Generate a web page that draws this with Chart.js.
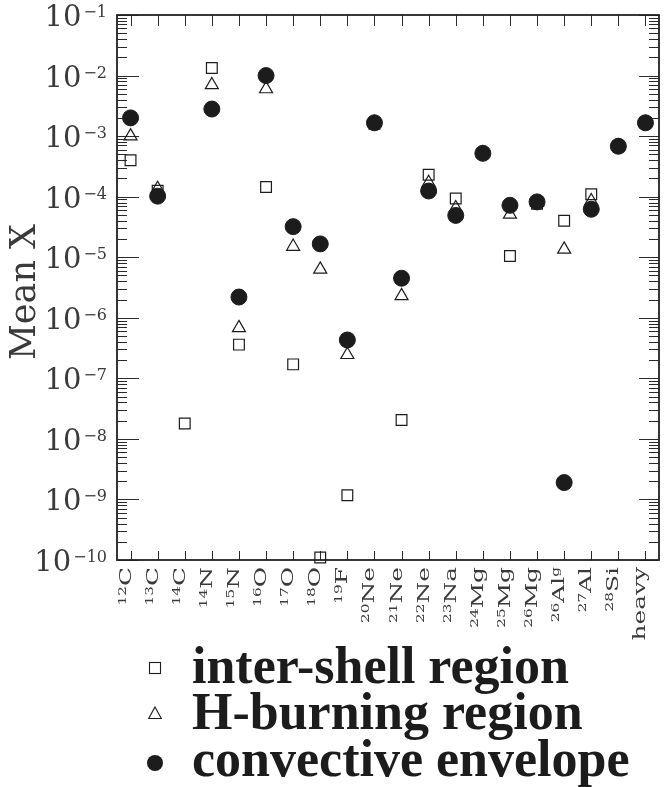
<!DOCTYPE html>
<html>
<head>
<meta charset="utf-8">
<script src="https://cdn.jsdelivr.net/npm/chart.js@4/dist/chart.umd.min.js"></script>
<style>
  html, body { margin: 0; padding: 0; background: #fff; }
  #wrap { width: 668px; height: 787px; }
</style>
</head>
<body>
<div id="wrap"><canvas id="chart" width="668" height="787"></canvas></div>
<script>
// Isotopes on the x axis (mass number, element, trailing superscript)
const massNumbers = ['12', '13', '14', '14', '15', '16', '17', '18', '19', '20', '21', '22', '23', '24', '25', '26', '26', '27', '28', ''];
const elements = ['C', 'C', 'C', 'N', 'N', 'O', 'O', 'O', 'F', 'Ne', 'Ne', 'Ne', 'Na', 'Mg', 'Mg', 'Mg', 'Al', 'Al', 'Si', 'heavy'];
const suffixes = ['', '', '', '', '', '', '', '', '', '', '', '', '', '', '', '', 'g', '', '', ''];
const categories = elements.map((el, i) => massNumbers[i] + el + suffixes[i]);

// Mean X per region
const interShell = [4.0e-4, 1.25e-4, 1.8e-8, 1.33e-2, 3.6e-7, 1.44e-4, 1.7e-7, 1.1e-10, 1.17e-9, 1.6e-3,
                    2.05e-8, 2.3e-4, 9.3e-5, 5.2e-4, 1.05e-5, 7.6e-5, 4.0e-5, 1.1e-4, 6.8e-4, 1.66e-3];
const hBurning = [1.0e-3, 1.35e-4, null, 7.0e-3, 6.8e-7, 6.0e-3, 1.5e-5, 6.3e-6, 2.45e-7, 1.65e-3,
                  2.3e-6, 1.7e-4, 6.5e-5, 5.2e-4, 5.1e-5, 8.0e-5, 1.35e-5, 8.5e-5, 6.8e-4, 1.66e-3];
const convective = [2.0e-3, 1.02e-4, null, 2.8e-3, 2.2e-6, 1.0e-2, 3.2e-5, 1.66e-5, 4.3e-7, 1.66e-3,
                    4.5e-6, 1.24e-4, 4.9e-5, 5.2e-4, 7.2e-5, 8.2e-5, 1.9e-9, 6.2e-5, 6.8e-4, 1.66e-3];

// y axis decades and minor tick multipliers
const yExponents = [-10, -9, -8, -7, -6, -5, -4, -3, -2, -1];
const minorSteps = [2, 3, 4, 5, 6, 7, 8, 9];

const legendLabels = ['inter-shell region', 'H-burning region', 'convective envelope'];

const ink = '#1c1c1c';
const axisFont = '"DejaVu Serif"';

// frame, inward ticks, labels and legend
const axesPlugin = {
    id: 'axesPlugin',
    beforeDatasetsDraw(chart) {
        const { ctx, chartArea: a, scales: { x, y } } = chart;
        ctx.save();
        ctx.strokeStyle = '#2a2a2a';
        ctx.lineWidth = 1;
        ctx.beginPath();
        yExponents.forEach(exp => {
            const py = Math.round(y.getPixelForValue(Math.pow(10, exp))) + 0.5;
            ctx.moveTo(a.left, py); ctx.lineTo(a.left + 22, py);
            ctx.moveTo(a.right, py); ctx.lineTo(a.right - 20, py);
            if (exp < -1) {
                minorSteps.forEach(m => {
                    const pm = Math.round(y.getPixelForValue(m * Math.pow(10, exp))) + 0.5;
                    ctx.moveTo(a.left, pm); ctx.lineTo(a.left + 10, pm);
                    ctx.moveTo(a.right, pm); ctx.lineTo(a.right - 10, pm);
                });
            }
        });
        categories.forEach((c, i) => {
            const px = Math.round(x.getPixelForValue(i)) + 0.5;
            ctx.moveTo(px, a.bottom); ctx.lineTo(px, a.bottom - 9);
            ctx.moveTo(px, a.top); ctx.lineTo(px, a.top + 11);
        });
        ctx.stroke();
        ctx.lineWidth = 1.8;
        ctx.strokeStyle = '#222';
        ctx.strokeRect(a.left, a.top, a.right - a.left, a.bottom - a.top);
        ctx.restore();
    },
    afterDraw(chart) {
        const { ctx, chartArea: a, scales: { x, y } } = chart;
        ctx.save();
        ctx.fillStyle = '#3a3a3a';
        ctx.textBaseline = 'alphabetic';
        ctx.textAlign = 'left';

        // y tick labels 10^n
        yExponents.forEach(exp => {
            const py = y.getPixelForValue(Math.pow(10, exp));
            const expText = '\u2212' + Math.abs(exp);
            ctx.font = '29px ' + axisFont;
            const wBase = ctx.measureText('10').width;
            ctx.font = '16px ' + axisFont;
            const wExp = ctx.measureText(expText).width;
            const x0 = a.left - 10 - wExp - 2 - wBase;
            ctx.font = '29px ' + axisFont;
            ctx.fillText('10', x0, py + 11);
            ctx.font = '16px ' + axisFont;
            ctx.fillText(expText, x0 + wBase + 2, py + 2);
        });

        // x tick labels, rotated
        categories.forEach((c, i) => {
            const px = x.getPixelForValue(i);
            ctx.save();
            ctx.translate(px, a.bottom + 7);
            ctx.rotate(-Math.PI / 2);
            ctx.scale(1.46, 1);
            ctx.font = '10.5px ' + axisFont;
            const w1 = ctx.measureText(massNumbers[i]).width;
            const w3 = ctx.measureText(suffixes[i]).width;
            ctx.font = '17px ' + axisFont;
            const w2 = ctx.measureText(elements[i]).width;
            let tx = -(w1 + w2 + w3);
            ctx.font = '10.5px ' + axisFont;
            ctx.fillText(massNumbers[i], tx, -5);
            tx += w1;
            ctx.font = '17px ' + axisFont;
            ctx.fillText(elements[i], tx, 0);
            tx += w2;
            ctx.font = '10.5px ' + axisFont;
            ctx.fillText(suffixes[i], tx, -5);
            ctx.restore();
        });

        // y axis title
        ctx.save();
        ctx.translate(35, 292);
        ctx.rotate(-Math.PI / 2);
        ctx.textAlign = 'center';
        ctx.font = '35px ' + axisFont;
        ctx.fillText('Mean X', 0, 0);
        ctx.restore();

        // legend
        const lx = 155;
        const rows = [668, 714, 763];
        ctx.strokeStyle = ink;
        ctx.lineWidth = 1.1;
        ctx.strokeRect(lx - 5.5, rows[0] - 5.5, 11, 11);
        ctx.beginPath();
        ctx.moveTo(lx, rows[1] - 7);
        ctx.lineTo(lx + 6.3, rows[1] + 4.5);
        ctx.lineTo(lx - 6.3, rows[1] + 4.5);
        ctx.closePath();
        ctx.stroke();
        ctx.fillStyle = ink;
        ctx.beginPath();
        ctx.arc(lx, rows[2], 8, 0, Math.PI * 2);
        ctx.fill();

        ctx.font = 'bold 52px "Liberation Serif"';
        ctx.textAlign = 'left';
        const baselines = [683, 729, 776];
        legendLabels.forEach((t, i) => ctx.fillText(t, 192, baselines[i]));
        ctx.restore();
    }
};

const ctx = document.getElementById('chart').getContext('2d');

const chart = new Chart(ctx, {
    type: 'line',
    data: {
        labels: categories,
        datasets: [
            {
                label: legendLabels[2], data: convective, order: 0,
                showLine: false, clip: false,
                pointStyle: 'circle', pointRadius: 8,
                pointBackgroundColor: ink, pointBorderColor: ink, pointBorderWidth: 1
            },
            {
                label: legendLabels[1], data: hBurning, order: 1,
                showLine: false, clip: false,
                pointStyle: 'triangle', pointRadius: 7.5,
                pointBackgroundColor: 'rgba(0,0,0,0)', pointBorderColor: ink, pointBorderWidth: 1.2
            },
            {
                label: legendLabels[0], data: interShell, order: 2,
                showLine: false, clip: false,
                pointStyle: 'rect', pointRadius: 7.6,
                pointBackgroundColor: 'rgba(0,0,0,0)', pointBorderColor: ink, pointBorderWidth: 1.2
            }
        ]
    },
    options: {
        responsive: false,
        animation: false,
        events: [],
        layout: { padding: { left: 117, top: 15, right: 3, bottom: 227 } },
        scales: {
            x: { type: 'category', offset: true, display: false },
            y: { type: 'logarithmic', min: 1e-10, max: 1e-1, display: false }
        },
        plugins: { legend: { display: false }, tooltip: { enabled: false } }
    },
    plugins: [axesPlugin]
});
</script>
</body>
</html>
